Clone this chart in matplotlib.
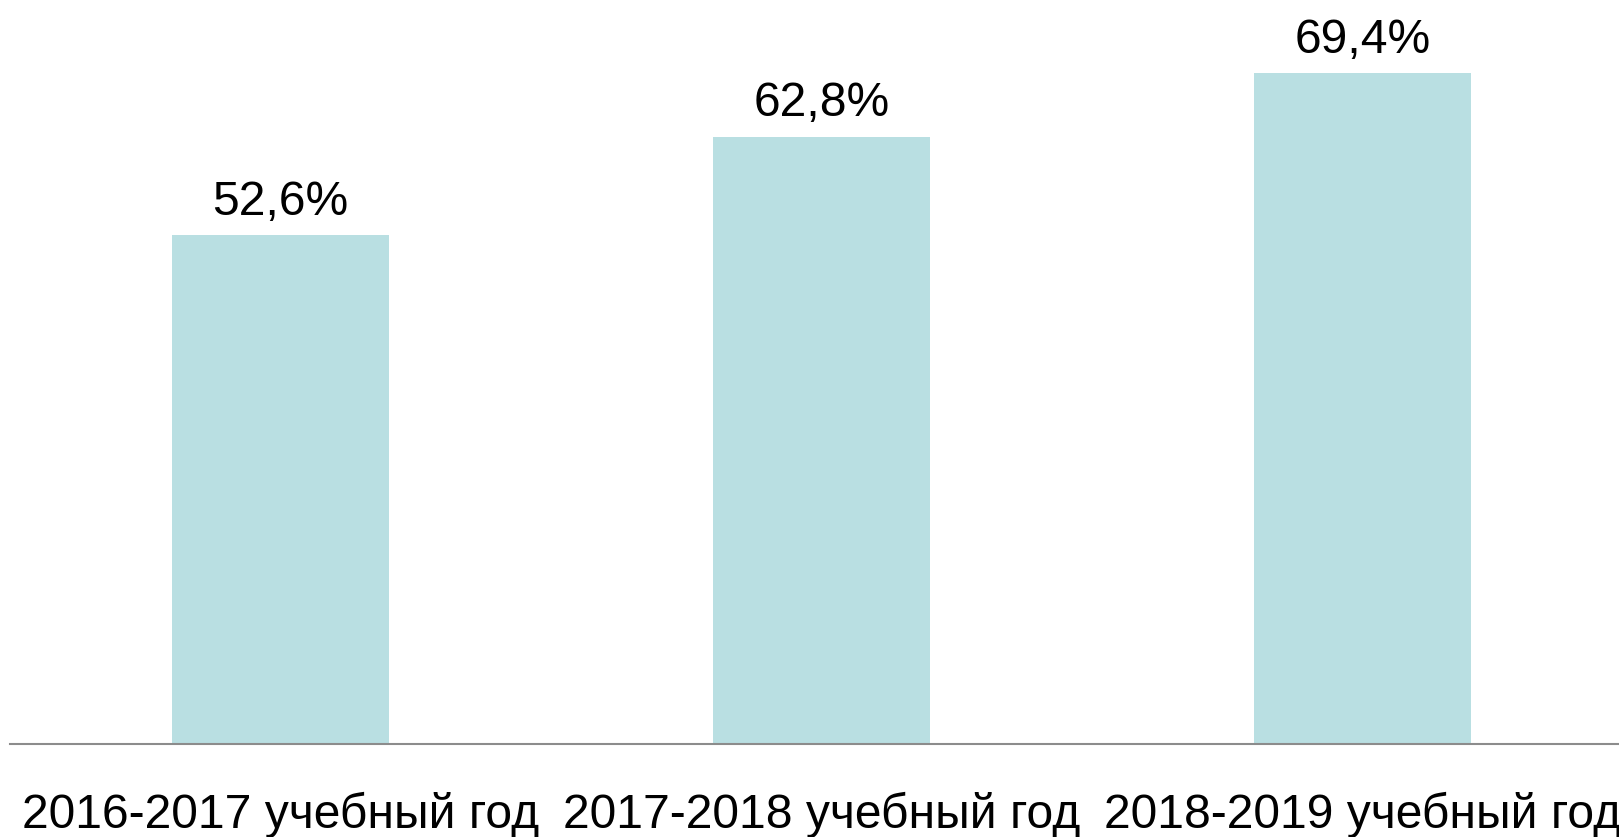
import matplotlib
matplotlib.use('Agg')
import matplotlib.pyplot as plt

# Data
YEARS = ['2016-2017 учебный год', '2017-2018 учебный год', '2018-2019 учебный год']
SHARE = [52.6, 62.8, 69.4]
LABELS = ['52,6%', '62,8%', '69,4%']

BAR_COLOR = '#B9DFE2'
AXIS_COLOR = '#8C8C8C'

plt.rcParams['font.family'] = ['Liberation Sans', 'DejaVu Sans']

fig = plt.figure(figsize=(16.19, 8.375), dpi=100)
ax = fig.add_axes([10 / 1619, 93 / 837, 1 - 10 / 1619, 1 - 93 / 837])

x = range(len(YEARS))
ax.bar(x, SHARE, width=0.4, color=BAR_COLOR, zorder=2)

for xi, v, lab in zip(x, SHARE, LABELS):
    ax.annotate(lab, (xi, v), xytext=(0, 15), textcoords='offset points',
                ha='center', va='baseline', fontsize=34.6, color='black')

ax.set_xlim(-0.5, 2.474)
ax.set_ylim(0, 77.0)

ax.set_xticks(list(x))
ax.set_xticklabels(YEARS, fontsize=34.6)
ax.tick_params(axis='x', length=0, pad=34)
ax.set_yticks([])

for side in ['top', 'right', 'left']:
    ax.spines[side].set_visible(False)
ax.spines['bottom'].set_color(AXIS_COLOR)
ax.spines['bottom'].set_linewidth(1.5)

fig.savefig('out.png', dpi=100)
